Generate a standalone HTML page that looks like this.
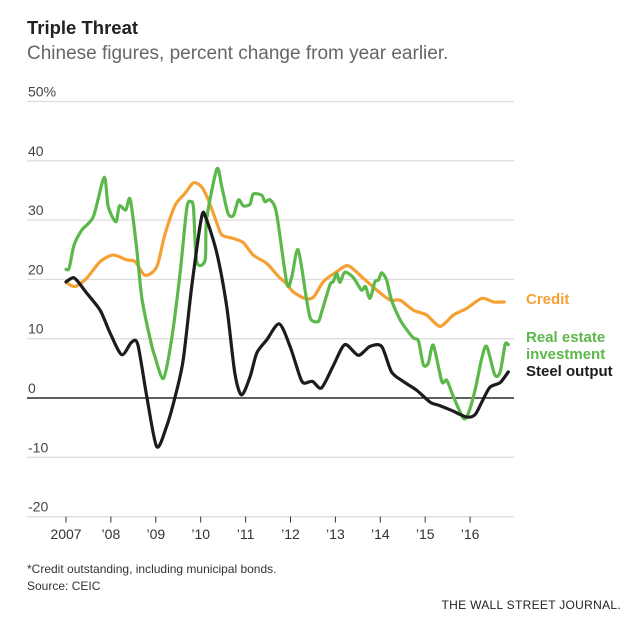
<!DOCTYPE html>
<html><head><meta charset="utf-8"><style>
body{margin:0;background:#fff;font-family:"Liberation Sans",sans-serif;}
#wrap{position:relative;width:635px;height:631px;overflow:hidden;}
.t{position:absolute;white-space:nowrap;}
</style></head><body>
<div id="wrap">
<div class="t" style="left:27px;top:17px;font-size:18.5px;font-weight:bold;color:#222;">Triple Threat</div>
<div class="t" style="left:27px;top:43px;font-size:19px;color:#666;">Chinese figures, percent change from year earlier.</div>
<svg id="chart" width="635" height="631" style="position:absolute;left:0;top:0"></svg>
<div class="t" style="left:27px;top:562px;font-size:12px;color:#333;">*Credit outstanding, including municipal bonds.</div>
<div class="t" style="left:27px;top:579px;font-size:12px;color:#333;">Source: CEIC</div>
<div class="t" style="right:14px;top:598px;font-size:12px;color:#222;letter-spacing:0.3px;">THE WALL STREET JOURNAL.</div>
</div>
<script>
const yTicks=[50,40,30,20,10,0,-10,-20];
const yTickLabels=["50%","40","30","20","10","0","-10","-20"];
const xTicks=[0,1,2,3,4,5,6,7,8,9];
const xTickLabels=["2007","’08","’09","’10","’11","’12","’13","’14","’15","’16"];
const steelT=[0,.16,.27,.46,.76,.98,1.24,1.46,1.6,1.8,2.02,2.24,2.43,2.61,2.8,3.02,3.12,3.36,3.58,3.76,3.91,4.1,4.25,4.47,4.75,4.99,5.21,5.3,5.49,5.69,5.95,6.21,6.51,6.77,7.03,7.25,7.51,7.81,8.11,8.33,8.59,8.92,9.11,9.26,9.44,9.67,9.85];
const steelV=[19.6,20.3,19.6,17.7,14.8,11,7.3,9.4,9,0.2,-8.2,-4.8,0.2,6.4,18.8,30.5,30.3,24.4,15.4,4.2,0.5,3.6,7.6,9.8,12.5,8.7,3.6,2.5,2.8,1.7,5.4,9,7.2,8.7,8.7,4.4,2.8,1.3,-0.7,-1.3,-2.1,-3.2,-2.8,-0.7,1.8,2.6,4.4];
const creditT=[0,.2,.46,.76,1.05,1.35,1.54,1.76,2.02,2.2,2.43,2.65,2.84,3.02,3.17,3.36,3.47,3.73,3.95,4.17,4.47,4.73,4.92,5.06,5.32,5.51,5.73,6.03,6.29,6.62,6.92,7.22,7.44,7.74,8.03,8.33,8.63,8.92,9.26,9.52,9.76];
const creditV=[19.5,18.8,20.2,23,24.1,23.3,23,20.7,22.1,27.5,32.5,34.5,36.3,35.6,33.4,29.5,27.5,26.9,26.2,24.1,22.7,20.5,19.2,17.9,16.8,17,19.6,21.3,22.3,20.2,18.2,16.5,16.5,14.8,14,12.1,14,15.1,16.8,16.2,16.2];
const estateT=[0,.07,.18,.35,.61,.85,.94,1.11,1.19,1.33,1.43,1.57,1.69,1.87,1.98,2.17,2.35,2.54,2.69,2.78,2.84,2.91,3.1,3.13,3.36,3.47,3.61,3.73,3.84,3.95,4.1,4.17,4.36,4.43,4.55,4.69,4.92,5.03,5.17,5.36,5.45,5.62,5.69,5.88,5.95,6.03,6.1,6.21,6.4,6.58,6.67,6.77,6.88,6.96,7.03,7.14,7.25,7.44,7.59,7.74,7.85,7.96,8.07,8.18,8.37,8.48,8.63,8.85,8.96,9.11,9.26,9.37,9.55,9.67,9.78,9.85];
const estateV=[21.7,21.9,25.8,28.3,30.6,37.2,32.3,29.7,32.4,31.7,33.5,25.5,16.8,10.1,7,3.3,9.8,21,32,33.1,32,23,23.3,30,38.6,35.6,31.1,30.8,33.4,32.4,32.7,34.4,34.2,33.1,33.4,31.1,19.3,20.5,25,16.5,13.3,12.9,14.4,19.1,19.6,21,19.5,21.2,20.3,18.2,18.8,16.8,19.6,19.9,21.1,19.9,16.5,13.2,11.5,10.1,9.6,5.6,5.9,8.9,2.8,3,0.2,-3.4,-2.6,1.3,6.7,8.7,3.9,4.4,9,9];
const NS="http://www.w3.org/2000/svg";
const svg=document.getElementById('chart');
const X=t=>66+t*44.9;
const Y=v=>398-v*5.93;
function mk(tag,attrs){const e=document.createElementNS(NS,tag);for(const k in attrs)e.setAttribute(k,attrs[k]);svg.appendChild(e);return e;}
yTicks.forEach((v,i)=>{
  const g=mk('line',{x1:27,x2:514,y1:Y(v),y2:Y(v),stroke:v===0?'#000':'#ddd','stroke-width':v===0?1.2:1.3});
  
  
  const t=mk('text',{x:28,y:Y(v)-5,'font-size':14,fill:'#444','font-family':'Liberation Sans, sans-serif'});
  t.textContent=yTickLabels[i];
  
  
});
xTicks.forEach((t,i)=>{
  const l=mk('line',{x1:X(t),x2:X(t),y1:Y(-20),y2:Y(-20)+6,stroke:'#333','stroke-width':1});
  
  
  const tx=mk('text',{x:X(t),y:539,'font-size':14,fill:'#333','text-anchor':'middle','font-family':'Liberation Sans, sans-serif'});
  tx.textContent=xTickLabels[i];
  
  
});
function smooth(P){
  let d='M'+P[0][0]+','+P[0][1];
  for(let i=0;i<P.length-1;i++){
    const p0=P[Math.max(0,i-1)],p1=P[i],p2=P[i+1],p3=P[Math.min(P.length-1,i+2)];
    const k=1/6*0.8;
    const c1=[p1[0]+(p2[0]-p0[0])*k,p1[1]+(p2[1]-p0[1])*k];
    const c2=[p2[0]-(p3[0]-p1[0])*k,p2[1]-(p3[1]-p1[1])*k];
    d+=' C'+c1.join(',')+' '+c2.join(',')+' '+p2.join(',');
  }
  return d;
}
function line(T,V,color,name){
  const P=T.map((t,i)=>[X(t),Y(V[i])]);
  const p=mk('path',{d:smooth(P),fill:'none',stroke:color,'stroke-width':3.2,'stroke-linejoin':'round','stroke-linecap':'round'});
  
  
}
line(creditT,creditV,'#f5a033','credit-line');
line(estateT,estateV,'#5cb84a','real-estate-line');
line(steelT,steelV,'#1c1c1c','steel-output-line');
function lab(txt,y,color,name){
  const t=mk('text',{x:526,y:y,'font-size':15,'font-weight':'bold',fill:color,'font-family':'Liberation Sans, sans-serif'});
  t.textContent=txt;
  
  
}
lab('Credit',304,'#f5a033','credit-label');
lab('Real estate',342,'#5cb84a','real-estate-label');
lab('investment',359,'#5cb84a','real-estate-label-line2');
lab('Steel output',376,'#1c1c1c','steel-output-label');
</script>
</body></html>
